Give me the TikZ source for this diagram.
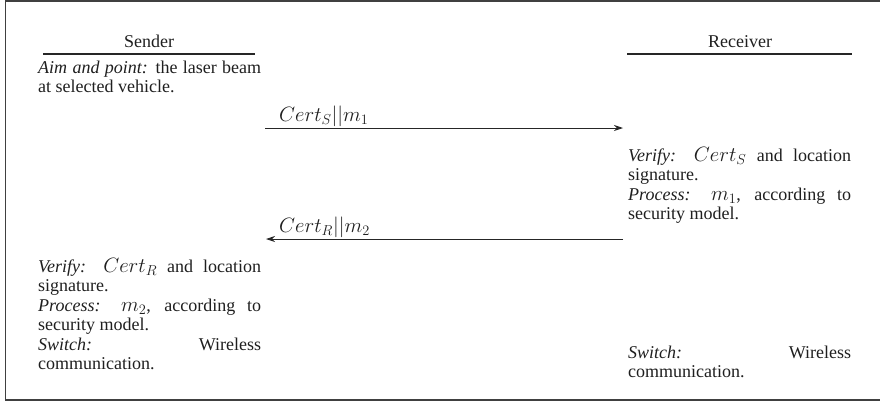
\documentclass[tikz,border=0pt]{standalone}
\usepackage[no-math]{fontspec}
\setmainfont{Liberation Serif}
\usetikzlibrary{arrows.meta}
% math set a little larger than the surrounding Times text
\newcommand\mth[1]{\mbox{\fontsize{20}{19.5}\selectfont$#1$}}
\begin{document}
\begin{tikzpicture}[x=1pt,y=-1pt,
  txt/.style={anchor=base west, inner sep=0pt, text width=223pt, align=justify,
              font=\fontsize{18}{19.5}\selectfont, text=black!88},
  head/.style={anchor=base, inner sep=0pt, font=\fontsize{18}{19.5}\selectfont, text=black!88},
  headrule/.style={line width=1.2pt, black!85},
  msg/.style={line width=0.9pt, black!85, -{Stealth[length=9pt,width=6pt]}},
  lbl/.style={anchor=base west, inner sep=0pt, font=\fontsize{21}{21}\selectfont, text=black!88},
  frame/.style={line width=1.5pt, black!75}]
\useasboundingbox (0,0) rectangle (880,405);

% outer frame (open on the right)
\coordinate (ftr) at (880,1);
\coordinate (ftl) at (5.5,1);
\coordinate (fbl) at (5.5,400);
\coordinate (fbr) at (880,400);
\draw[frame] (ftr) -- (ftl) -- (fbl) -- (fbr);

% column headings
\node[head] (sender) at (149,47) {Sender};
\node[head] (receiver) at (740,47) {Receiver};
\coordinate (sl) at (43,54);  \coordinate (sr) at (255,54);
\coordinate (rl) at (627,54); \coordinate (rr) at (852,54);
\draw[headrule] (sl) -- (sr);
\draw[headrule] (rl) -- (rr);

% sender, first step
\node[txt] (aim) at (38,73)
  {\emph{Aim and point:} the laser beam\linebreak at selected vehicle.};

% first message
\coordinate (m1s) at (265,128);
\coordinate (m1r) at (623,128);
\draw[msg] (m1s) -- (m1r);
\node[lbl] (m1lbl) at (279,121) {$Cert_S||m_1$};

% receiver checks
\node[txt] (rverify) at (628,161)
  {\emph{Verify:} \mth{Cert_S} and location\linebreak signature.\newline
   \emph{Process:} \mth{m_1}, according to\linebreak security model.};

% second message
\coordinate (m2r) at (623,239);
\coordinate (m2s) at (266,239);
\draw[msg] (m2r) -- (m2s);
\node[lbl] (m2lbl) at (279,232) {$Cert_R||m_2$};

% sender checks
\node[txt] (sverify) at (38,272)
  {\emph{Verify:} \mth{Cert_R} and location\linebreak signature.\newline
   \emph{Process:} \mth{m_2}, according to\linebreak security model.\newline
   \emph{Switch:} Wireless\linebreak communication.};

% receiver switch
\node[txt] (rswitch) at (628,358)
  {\emph{Switch:} Wireless\linebreak communication.};
\end{tikzpicture}
\end{document}
